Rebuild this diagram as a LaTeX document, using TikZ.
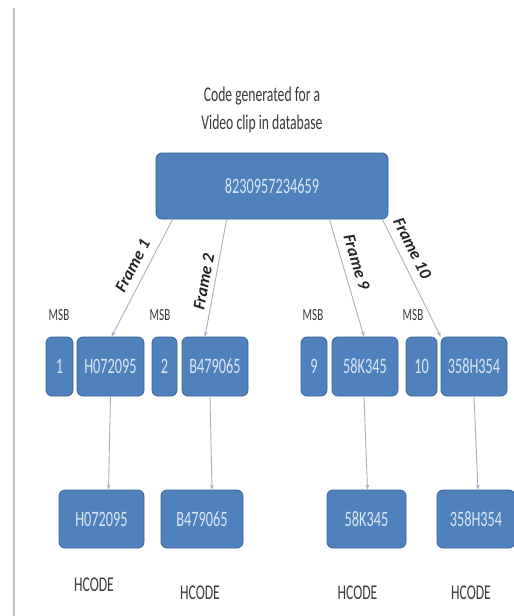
\documentclass[tikz,border=0pt]{standalone}
\usepackage{fontspec}
\setmainfont{Carlito}
\newfontfamily\condfont[FakeStretch=0.65]{Carlito}
\usepackage{tikz}
\definecolor{boxblue}{HTML}{4F81BD}
\definecolor{boxedge}{HTML}{3A6496}
\definecolor{linkgray}{HTML}{A3B3C6}
\definecolor{textgray}{HTML}{3A3A3A}
\usetikzlibrary{arrows.meta, positioning, calc}

\tikzset{
    codebox/.style={draw=boxedge, fill=boxblue, rounded corners=6pt, line width=0.8pt, inner sep=0pt,
        text=white!80!boxblue, font=\condfont\fontsize{22}{24}\selectfont},
    link/.style={-{Stealth[length=5pt,width=4pt]}, draw=linkgray, line width=0.9pt},
    framelabel/.style={sloped, above=6pt, inner sep=2pt, text=black!85, font=\fontsize{17}{19}\selectfont\bfseries\itshape},
    msblabel/.style={text=textgray, font=\condfont\fontsize{17}{19}\selectfont},
    hcodelabel/.style={text=textgray, font=\condfont\fontsize{21}{23}\selectfont}
}

\begin{document}
\begin{tikzpicture}[x=1pt, y=-1pt]
    \useasboundingbox[fill=white] (0,0) rectangle (514,616);

    % Left rule
    \draw[line width=1.6pt, black!25] (14,8) -- (14,616);

    % Title and clip code
    \node[text=textgray, align=center, font=\condfont\fontsize{21}{28}\selectfont] (title) at (262,110)
        {Code generated for a\\Video clip in database};
    \node[codebox, minimum width=232, minimum height=66] (clip) at (272,186) {8230957234659};

    % Frame codes with MSB
    \node[codebox, minimum width=27, minimum height=59] (m1) at (59.5,366.5) {1};
    \node[codebox, minimum width=67, minimum height=59] (h1) at (110.5,366.5) {H072095};
    \node[codebox, minimum width=25, minimum height=59] (m2) at (164.5,366.5) {2};
    \node[codebox, minimum width=66, minimum height=59] (h2) at (215,366.5) {B479065};
    \node[codebox, minimum width=26, minimum height=59] (m9) at (314,366.5) {9};
    \node[codebox, minimum width=66, minimum height=59] (h9) at (365,366.5) {58K345};
    \node[codebox, minimum width=31, minimum height=59] (m10) at (421.5,366.5) {10};
    \node[codebox, minimum width=66, minimum height=59] (h10) at (474,366.5) {358H354};

    \node[msblabel] (msb1) at (59,315) {MSB};
    \node[msblabel] (msb2) at (160,315) {MSB};
    \node[msblabel] (msb9) at (313,315) {MSB};
    \node[msblabel] (msb10) at (413,315) {MSB};

    % HCODE boxes
    \node[codebox, minimum width=85, minimum height=58] (c1) at (101.5,519) {H072095};
    \node[codebox, minimum width=82, minimum height=58] (c2) at (202,519) {B479065};
    \node[codebox, minimum width=79, minimum height=58] (c9) at (366.5,519) {58K345};
    \node[codebox, minimum width=78, minimum height=58] (c10) at (476,519) {358H354};

    \node[hcodelabel] (hc1) at (94,585) {HCODE};
    \node[hcodelabel] (hc2) at (200,593) {HCODE};
    \node[hcodelabel] (hc9) at (357.5,593) {HCODE};
    \node[hcodelabel] (hc10) at (471,593) {HCODE};

    % Frames out of the clip code
    \draw[link] ([xshift=17pt]clip.south west) -- node[framelabel, pos=0.45] {Frame 1} ([xshift=1pt]h1.north);
    \draw[link] ([xshift=71pt]clip.south west) -- node[framelabel, pos=0.55, above=3pt] {Frame 2} ([xshift=-10pt]h2.north);
    \draw[link] ([xshift=-59pt]clip.south east) -- node[framelabel, pos=0.4] {Frame 9} ([xshift=-1pt]h9.north);
    \draw[link] ([xshift=-6pt]clip.south east) -- node[framelabel, pos=0.3] {Frame 10} (h10.north west);

    % Down to the HCODE
    \draw[link] (h1.south) -- ([xshift=7pt]c1.north);
    \draw[link] ([xshift=-5pt]h2.south) -- ([xshift=10pt]c2.north);
    \draw[link] ([xshift=-1pt]h9.south) -- ([xshift=1pt]c9.north);
    \draw[link] (h10.south) -- ([xshift=2pt]c10.north);
\end{tikzpicture}
\end{document}
